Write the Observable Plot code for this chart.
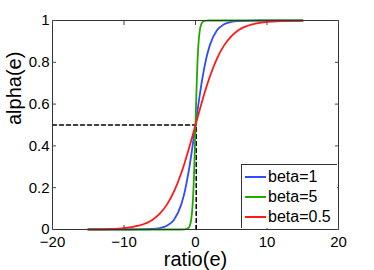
<!DOCTYPE html>
<html><head><meta charset="utf-8">
<script src="https://cdn.jsdelivr.net/npm/d3@7"></script>
<script src="https://cdn.jsdelivr.net/npm/@observablehq/plot@0.6"></script>
<style>
body{margin:0;background:#fff;}
#wrap{position:relative;width:374px;height:270px;font-family:"Liberation Sans",Arial,sans-serif;}
#legend{position:absolute;left:241px;top:164px;width:96px;height:64px;border:1px solid #333;border-right:none;border-bottom:none;background:#fff;font-size:16px;color:#000;box-sizing:border-box;padding-top:2px;}
#legend div{display:flex;align-items:center;height:20px;}
#legend span.sw{display:inline-block;width:21px;height:0;border-top:2px solid;margin:0 2px 0 3px;}
</style></head>
<body><div id="wrap"><div id="legend"></div></div>
<script>
const xTicks = [-20, -10, 0, 10, 20];
const yTicks = [0, 0.2, 0.4, 0.6, 0.8, 1];
const seriesNames = ["beta=1", "beta=5", "beta=0.5"];
const seriesColors = ["#2f4dff", "#22a800", "#ff1a1a"];

const xBlue = [-15,-12,-10,-8,-6,-5,-4,-3,-2,-1.5,-1,-0.5,0,0.5,1,1.5,2,3,4,5,6,8,10,12,15];
const yBlue = [0,0,0.00005,0.0003,0.0025,0.0067,0.018,0.047,0.119,0.182,0.269,0.378,0.5,0.622,0.731,0.818,0.881,0.953,0.982,0.9933,0.9975,0.9997,0.99995,1,1];

const xGreen = [-15,-10,-5,-2,-1.5,-1,-0.8,-0.6,-0.4,-0.3,-0.2,-0.1,0,0.1,0.2,0.3,0.4,0.6,0.8,1,1.5,2,5,10,15];
const yGreen = [0,0,0,0.00005,0.00055,0.0067,0.018,0.047,0.119,0.182,0.269,0.378,0.5,0.622,0.731,0.818,0.881,0.953,0.982,0.9933,0.99945,0.99995,1,1,1];

const xRed = [-15,-12,-10,-8,-6,-5,-4,-3,-2,-1.5,-1,-0.5,0,0.5,1,1.5,2,3,4,5,6,8,10,12,15];
const yRed = [0.00055,0.0025,0.0067,0.018,0.047,0.076,0.119,0.182,0.269,0.321,0.378,0.438,0.5,0.562,0.622,0.679,0.731,0.818,0.881,0.924,0.953,0.982,0.9933,0.9975,0.99945];

const refX = [-20, 0.1];
const refY = [0.5, 0.5];
const refX2 = [0.1, 0.1];
const refY2 = [0, 0.5];

const toRows = (xs, ys, name) => xs.map((x, i) => ({x, y: ys[i], s: name}));
const rows = [
  ...toRows(xBlue, yBlue, seriesNames[0]),
  ...toRows(xGreen, yGreen, seriesNames[1]),
  ...toRows(xRed, yRed, seriesNames[2])
];
const hRef = refX.map((x, i) => ({x, y: refY[i]}));
const vRef = refX2.map((x, i) => ({x, y: refY2[i]}));

const chart = Plot.plot({
  width: 374, height: 270,
  marginLeft: 52, marginRight: 36, marginTop: 20, marginBottom: 41,
  style: {fontFamily: "Liberation Sans, Arial, sans-serif", fontSize: "15px", color: "#000", background: "#fff"},
  x: {domain: [-20, 20]},
  y: {domain: [0, 1]},
  color: {domain: seriesNames, range: seriesColors},
  marks: [
    Plot.line(hRef, {x: "x", y: "y", stroke: "#000", strokeWidth: 1.5, strokeDasharray: "4,3"}),
    Plot.line(vRef, {x: "x", y: "y", stroke: "#000", strokeWidth: 1.5, strokeDasharray: "4,3"}),
    Plot.line(rows, {x: "x", y: "y", z: "s", stroke: "s", strokeWidth: 1.8, curve: "monotone-x"}),
    Plot.frame({stroke: "#333", strokeWidth: 1}),
    Plot.axisX(xTicks, {anchor: "bottom", tickSize: 0, tickPadding: 7, tickFormat: d => d < 0 ? "\u2212" + Math.abs(d) : String(d), label: null, fontSize: 15}),
    Plot.axisX(xTicks, {anchor: "bottom", tickSize: -4, tickFormat: () => "", label: null, stroke: "#444"}),
    Plot.axisX(xTicks, {anchor: "top", tickSize: -4, tickFormat: () => "", label: null, stroke: "#444"}),
    Plot.axisY(yTicks, {anchor: "left", tickSize: 0, tickPadding: 3, tickFormat: d => String(d), label: null, fontSize: 15}),
    Plot.axisY(yTicks, {anchor: "left", tickSize: -4, tickFormat: () => "", label: null, stroke: "#444"}),
    Plot.axisY(yTicks, {anchor: "right", tickSize: -4, tickFormat: () => "", label: null, stroke: "#444"}),
    Plot.text(["ratio(e)"], {frameAnchor: "bottom", dy: 36, text: d => d, fontSize: 20}),
    Plot.text(["alpha(e)"], {frameAnchor: "left", dx: -38, rotate: -90, text: d => d, fontSize: 20})
  ]
});
const wrap = document.getElementById("wrap");
wrap.insertBefore(chart, wrap.firstChild);
const leg = document.getElementById("legend");
seriesNames.forEach((n, i) => {
  const row = document.createElement("div");
  row.innerHTML = `<span class="sw" style="border-color:${seriesColors[i]}"></span><span>${n}</span>`;
  leg.appendChild(row);
});
</script>
</body></html>
